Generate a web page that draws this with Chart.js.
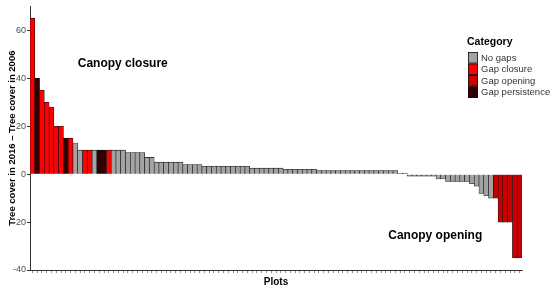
<!DOCTYPE html>
<html>
<head>
<meta charset="utf-8">
<script src="https://cdn.jsdelivr.net/npm/chart.js@4.4.1/dist/chart.umd.min.js"></script>
<style>
  html, body { margin: 0; padding: 0; background: #fff; }
  #wrap { width: 550px; height: 290px; position: relative; }
</style>
</head>
<body>
<div id="wrap"><canvas id="myChartBarra"></canvas></div>
<script>
// change in tree cover per plot, sorted from largest gain to largest loss
const coverChange = [
  65, 40, 35, 30, 28, 20, 20, 15, 15, 13,
  10, 10, 10, 10, 10, 10, 10, 10, 10, 10,
  9, 9, 9, 9, 7, 7, 5, 5, 5, 5,
  5, 5, 4, 4, 4, 4, 3.3, 3.3, 3.3, 3.3,
  3.3, 3.3, 3.3, 3.3, 3.3, 3.3, 2.5, 2.5, 2.5, 2.5,
  2.5, 2.5, 2.5, 2, 2, 2, 2, 2, 2, 2,
  1.5, 1.5, 1.5, 1.5, 1.5, 1.5, 1.5, 1.5, 1.5, 1.5,
  1.5, 1.5, 1.5, 1.5, 1.5, 1.5, 1.5, 0.3, 0.3, -0.8,
  -0.8, -0.8, -0.8, -0.8, -0.8, -2, -2, -3, -3, -3,
  -3, -3, -4, -5, -8, -9, -10, -10, -20, -20,
  -20, -35, -35
];

// category of each plot: N = no gaps, C = gap closure, O = gap opening, P = gap persistence
const plotCategory = [
  'C', 'P', 'C', 'C', 'C', 'C', 'C', 'P', 'C', 'N',
  'N', 'C', 'C', 'N', 'P', 'P', 'C', 'N', 'N', 'N',
  'N', 'N', 'N', 'N', 'N', 'N', 'N', 'N', 'N', 'N',
  'N', 'N', 'N', 'N', 'N', 'N', 'N', 'N', 'N', 'N',
  'N', 'N', 'N', 'N', 'N', 'N', 'N', 'N', 'N', 'N',
  'N', 'N', 'N', 'N', 'N', 'N', 'N', 'N', 'N', 'N',
  'N', 'N', 'N', 'N', 'N', 'N', 'N', 'N', 'N', 'N',
  'N', 'N', 'N', 'N', 'N', 'N', 'N', 'N', 'N', 'N',
  'N', 'N', 'N', 'N', 'N', 'N', 'N', 'N', 'N', 'N',
  'N', 'N', 'N', 'N', 'N', 'N', 'N', 'O', 'O', 'O',
  'O', 'O', 'O'
];

const categoryCodes = ['N', 'C', 'O', 'P'];
const categoryNames = ['No gaps', 'Gap closure', 'Gap opening', 'Gap persistence'];
const categoryColors = ['#a3a3a3', '#ff0000', '#c80000', '#300000'];

const yTicks = [-40, -20, 0, 20, 40, 60];

const plotLabels = coverChange.map((v, i) => 'Plot ' + (i + 1));
const barColors = plotCategory.map(c => categoryColors[categoryCodes.indexOf(c)]);

const FONT = "'Liberation Sans', Arial, Helvetica, sans-serif";

// text notes placed in data units (x = category position, y = value)
const notes = {
  id: 'notes',
  afterDatasetsDraw(chart) {
    const { ctx, scales: { x, y } } = chart;
    const half = (x.getPixelForValue(1) - x.getPixelForValue(0)) / 2;
    ctx.save();
    ctx.font = 'bold 12px ' + FONT;
    ctx.fillStyle = '#000';
    ctx.textBaseline = 'middle';
    ctx.textAlign = 'left';
    ctx.fillText('Canopy closure', x.getPixelForValue(10) - half, y.getPixelForValue(46));
    ctx.fillText('Canopy opening', x.getPixelForValue(75) - half, y.getPixelForValue(-25.5));
    ctx.restore();
  }
};

// ggplot style legend box sitting inside the panel
const keyLegend = {
  id: 'keyLegend',
  afterDraw(chart) {
    const { ctx } = chart;
    const left = 468, top = 36;
    ctx.save();
    ctx.textBaseline = 'middle';
    ctx.textAlign = 'left';
    ctx.font = 'bold 10.5px ' + FONT;
    ctx.fillStyle = '#000';
    ctx.fillText('Category', left - 1, top + 6);
    ctx.font = '9.5px ' + FONT;
    categoryNames.forEach((name, i) => {
      const ky = top + 16 + i * 11.5;
      ctx.fillStyle = categoryColors[i];
      ctx.fillRect(left, ky, 10, 11.5);
      ctx.strokeStyle = '#111';
      ctx.lineWidth = 0.8;
      ctx.strokeRect(left + 0.5, ky + 0.5, 9, 10.5);
      ctx.fillStyle = '#333';
      ctx.fillText(name, left + 13, ky + 6);
    });
    ctx.restore();
  }
};

const ctxBarra = document.getElementById('myChartBarra');

new Chart(ctxBarra, {
    type: 'bar',
    data: {
        labels: plotLabels,
        datasets: [
            {
                label: 'Tree cover change',
                data: coverChange,
                backgroundColor: barColors,
                borderColor: '#111',
                borderWidth: 0.6,
                barPercentage: 1,
                categoryPercentage: 1
            }
        ]
    },
    options: {
        responsive: true,
        maintainAspectRatio: false,
        animation: false,
        layout: { padding: { top: 6, right: 28, left: 5, bottom: 0 } },
        plugins: {
            legend: { display: false },
            tooltip: { enabled: false }
        },
        scales: {
            x: {
                offset: true,
                grid: { display: true, drawOnChartArea: false, drawTicks: true, tickLength: 3, offset: false, color: '#444', lineWidth: 0.6 },
                border: { display: true, color: '#333', width: 1 },
                ticks: { display: false, autoSkip: false },
                title: {
                    display: true,
                    text: 'Plots',
                    color: '#000',
                    font: { family: FONT, size: 10, weight: 'bold' },
                    padding: { top: 0, bottom: 2 }
                },
                afterFit(scale) { scale.height = 20; }
            },
            y: {
                min: -40,
                max: 70,
                afterBuildTicks(scale) { scale.ticks = yTicks.map(v => ({ value: v })); },
                grid: { display: true, drawOnChartArea: false, drawTicks: true, tickLength: 3, color: '#333' },
                border: { display: true, color: '#333', width: 1 },
                ticks: {
                    color: '#4d4d4d',
                    padding: 1,
                    font: { family: FONT, size: 9 }
                },
                title: {
                    display: true,
                    text: 'Tree cover in 2016 – Tree cover in 2006',
                    color: '#000',
                    font: { family: FONT, size: 9.5, weight: 'bold' },
                    padding: { top: 2, bottom: 0 }
                },
                afterFit(scale) { scale.width = 25; }
            }
        }
    },
    plugins: [notes, keyLegend]
});
</script>
</body>
</html>
